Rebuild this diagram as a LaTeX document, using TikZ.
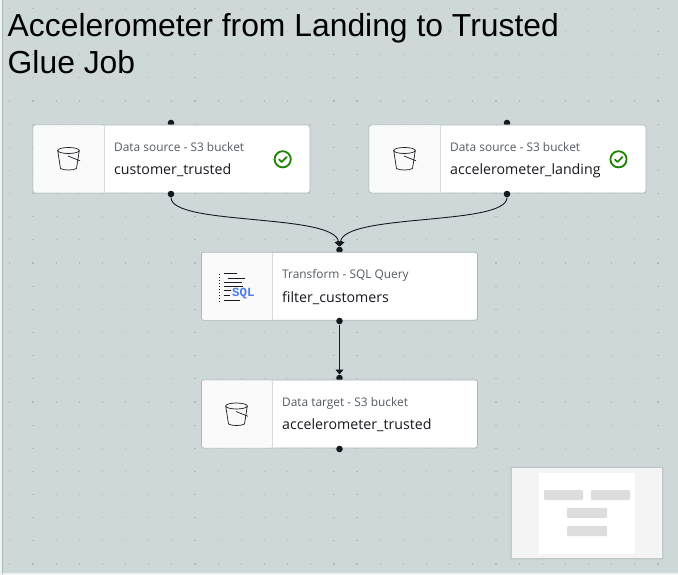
\documentclass[tikz,border=0pt]{standalone}
\usepackage{fontspec}
\setmainfont{Open Sans}
\newfontfamily\titlefont{Liberation Sans}
\newfontfamily\sqlfont{Liberation Mono}
\usetikzlibrary{arrows.meta}
\definecolor{canvas}{HTML}{CFD8D8}
\definecolor{griddot}{HTML}{B0BABA}
\definecolor{edgeline}{HTML}{AAB7B8}
\definecolor{panel}{HTML}{FAFAFA}
\definecolor{divider}{HTML}{D5DBDB}
\definecolor{kindtext}{HTML}{545B64}
\definecolor{nametext}{HTML}{16191F}
\definecolor{portdark}{HTML}{16191F}
\definecolor{okgreen}{HTML}{1D8102}
\definecolor{sqlblue}{HTML}{4A7BEC}
\definecolor{mapbg}{HTML}{F4F4F4}
\definecolor{mapbar}{HTML}{DDDDDD}
\tikzset{
  gluebox/.style={draw=edgeline,line width=.8pt,fill=white,rounded corners=2.5pt,minimum height=68pt,inner sep=0pt},
  gluepanel/.style={fill=panel,rounded corners=2pt},
  kind/.style={anchor=base west,inner sep=0pt,text=kindtext,font=\fontsize{11.9}{14}\selectfont},
  jobname/.style={anchor=base west,inner sep=0pt,text=nametext,font=\fontsize{14.2}{17}\selectfont},
  port/.style={circle,fill=portdark,inner sep=0pt,minimum size=6.6pt},
  flow/.style={draw=portdark,line width=.9pt,-{Triangle[length=5pt,width=8pt]}},
  bucket/.style={draw=nametext,line width=.7pt,line join=round},
  iconline/.style={draw=nametext,line width=.9pt},
  okmark/.style={draw=okgreen,line width=1.5pt,line cap=round,line join=round},
  mapitem/.style={fill=mapbar,rounded corners=1pt}
}
\begin{document}
\begin{tikzpicture}[x=1pt,y=-1pt]
\useasboundingbox (0,0) rectangle (678,575);
\fill[canvas] (0,0) rectangle (678,575);
\fill[white!70!canvas] (0,0) rectangle (2,575);
\draw[edgeline,line width=.8pt] (2.4,0) -- (2.4,573);
\fill[white!70!canvas] (2.8,573) rectangle (678,575);
% grid
\foreach \i in {0,...,29}{\foreach \j in {0,...,24}{
  \fill[griddot] ({9.8+23.15*\i-.6},{8.4+23.15*\j-.6}) rectangle ++(1.2,1.2);
}}
% title
\node[anchor=base west,inner sep=0pt,align=left,font=\titlefont\fontsize{31.85}{37.5}\selectfont] (title) at (7.5,74)
  {Accelerometer from Landing to Trusted\\Glue Job};
% top ports sit behind the boxes
\node[port] (p1t) at (171,123) {};
\node[port] (p2t) at (507,123) {};
\node[port] (p3t) at (339.5,250) {};
\node[port] (p4t) at (339.5,378) {};
% boxes
\node[gluebox,minimum width=277pt] (b1) at (171.5,159) {};
\node[gluebox,minimum width=277pt] (b2) at (507.5,159) {};
\node[gluebox,minimum width=276pt] (b3) at (339.5,286.3) {};
\node[gluebox,minimum width=276pt] (b4) at (339.5,414) {};
% left panels
\foreach \bx/\by/\dx in {33.5/125.5/104, 369.5/125.5/440, 202/252.8/272, 202/380.5/272}{
  \fill[gluepanel] (\bx,\by) rectangle (\dx,\by+67);
  \draw[divider,line width=1pt] (\dx,\by) -- (\dx,\by+67);
}
% bottom ports
\node[port] (p1b) at (171,194) {};
\node[port] (p2b) at (507,194) {};
\node[port] (p3b) at (339.5,321) {};
\node[port] (p4b) at (339.5,449) {};
% connectors
\draw[flow] (p1b) .. controls (171,226) and (335,213) .. (p3t);
\draw[flow] (p2b) .. controls (507,226) and (344,213) .. (p3t);
\draw[flow] (p3b) -- (p4t);
% labels
\node[kind] (k1) at (114,151.5) {Data source - S3 bucket};
\node[jobname] (n1) at (114,174.6) {customer\_trusted};
\node[kind] (k2) at (450,151.3) {Data source - S3 bucket};
\node[jobname] (n2) at (450,174.2) {accelerometer\_landing};
\node[kind] (k3) at (282,278.3) {Transform - SQL Query};
\node[jobname] (n3) at (282,302.2) {filter\_customers};
\node[kind] (k4) at (282,406.3) {Data target - S3 bucket};
\node[jobname] (n4) at (282,429.2) {accelerometer\_trusted};
% bucket icons
\foreach \ox/\oy in {0/0, 336/0, 168/255.5}{
\begin{scope}[shift={(\ox,\oy)}]
  \draw[bucket] (68.5,150.5) ellipse [x radius=10.8,y radius=3];
  \draw[bucket] (57.7,150.5) -- (60.5,168.5) .. controls (63,170.5) and (74,170.5) .. (76.5,168.5) -- (79.3,150.5);
  \draw[bucket] (68,156) -- (80,160.8);
\end{scope}}
% check marks
\foreach \cx/\cy in {282.7/159.3, 618.5/159.3}{
  \draw[okmark,line width=1.8pt] (\cx,\cy) circle [radius=8.1];
  \draw[okmark,line width=1.7pt] (\cx-3.6,\cy+.2) -- (\cx-1,\cy+2.7) -- (\cx+4,\cy-2.4);
}
% SQL icon
\foreach \yy in {273.5,276.5,...,300.5}{\fill[nametext] (218.7,\yy) rectangle ++(1,1);}
\draw[iconline] (223.5,273.5) -- (236.5,273.5);
\draw[iconline] (228,278) -- (245,278);
\draw[iconline] (223.5,282.3) -- (241.5,282.3);
\draw[iconline] (223.5,286.3) -- (243,286.3);
\draw[iconline] (223.5,290.3) -- (230.5,290.3);
\draw[iconline] (223.5,295.5) -- (230,295.5);
\draw[iconline] (223.5,300) -- (239.5,300);
\node[anchor=base west,inner sep=0pt,text=sqlblue,font=\sqlfont\bfseries\fontsize{12.4}{14}\selectfont] (sql) at (232,296.5) {SQL};
% minimap
\fill[black,opacity=.03] (510,466) rectangle (664,560);
\fill[black,opacity=.04] (511,467) rectangle (663,559);
\fill[mapbg] (512,468) rectangle (662,557.7);
\fill[white] (539,473) rectangle (635,553.5);
\fill[mapitem] (544,490) rectangle (583,500);
\fill[mapitem] (591,490) rectangle (630,500);
\fill[mapitem] (567,508) rectangle (607,518);
\fill[mapitem] (567,526) rectangle (607,536);
\end{tikzpicture}
\end{document}
